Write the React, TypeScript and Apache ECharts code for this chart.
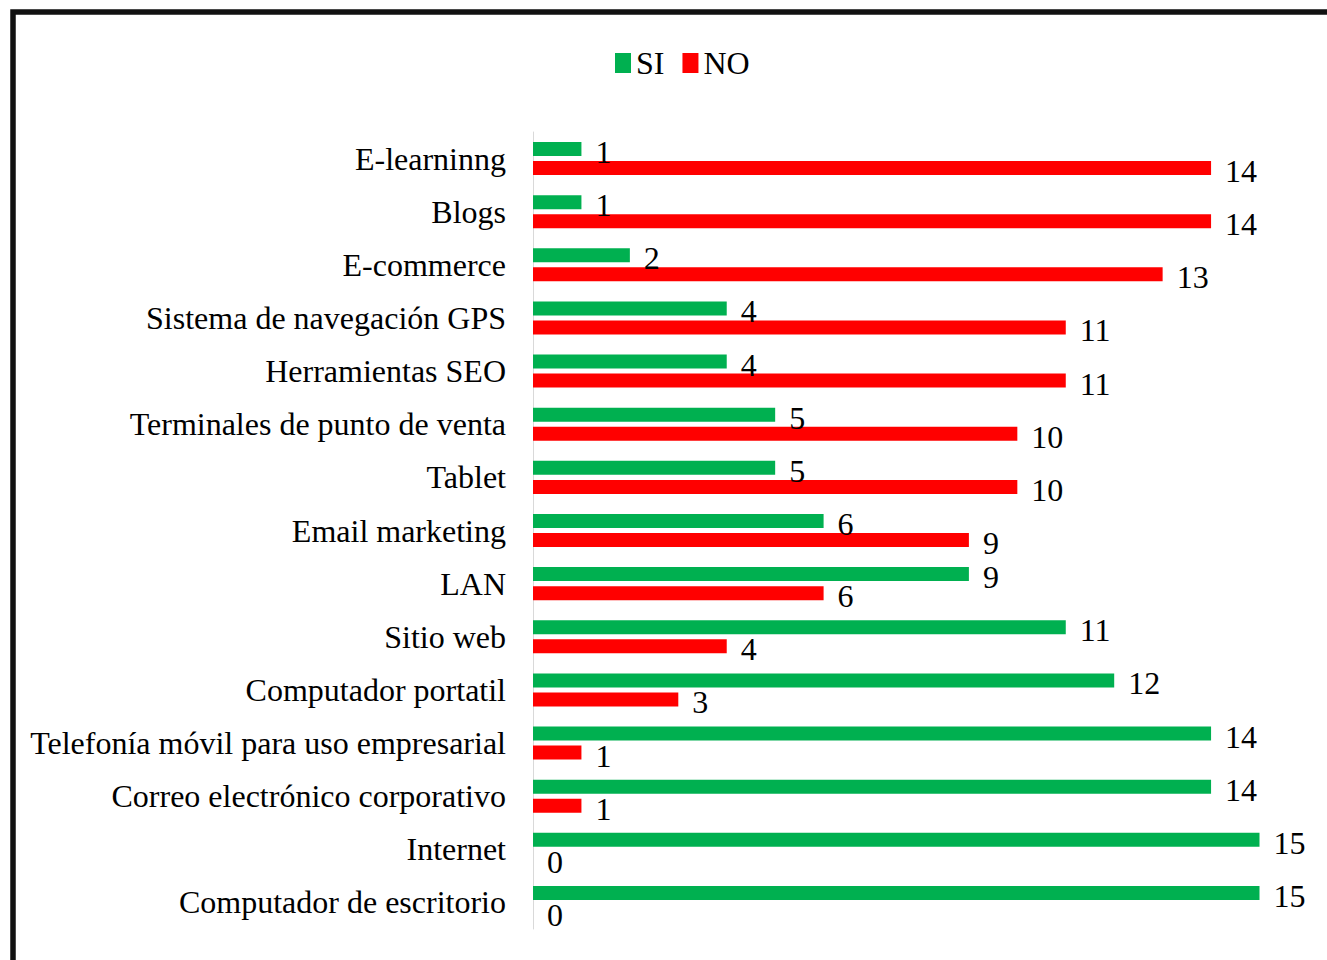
import React, { useEffect, useRef } from "react";
import * as echarts from "echarts";

const categories = [
  "Computador de escritorio",
  "Internet",
  "Correo electrónico corporativo",
  "Telefonía móvil para uso empresarial",
  "Computador portatil",
  "Sitio web",
  "LAN",
  "Email marketing",
  "Tablet",
  "Terminales de punto de venta",
  "Herramientas SEO",
  "Sistema de navegación GPS",
  "E-commerce",
  "Blogs",
  "E-learninng",
];
const siValues = [15, 15, 14, 14, 12, 11, 9, 6, 5, 5, 4, 4, 2, 1, 1];
const noValues = [0, 0, 1, 1, 3, 4, 6, 9, 10, 10, 11, 11, 13, 14, 14];
const seriesNames = ["SI", "NO"];

const FONT = "'Liberation Serif', 'Times New Roman', serif";

export default function App() {
  const ref = useRef<HTMLDivElement>(null);
  useEffect(() => {
    if (!ref.current) return;
    const chart = echarts.init(ref.current, undefined, { renderer: "svg" });
    const labelStyle = {
      show: true,
      position: "right" as const,
      distance: 14,
      offset: [0, 3],
      fontFamily: FONT,
      fontSize: 32,
      color: "#000",
    };
    chart.setOption({
      animation: false,
      backgroundColor: "#fff",
      legend: {
        data: seriesNames,
        left: 610,
        top: 42,
        itemWidth: 16,
        itemHeight: 20,
        itemGap: 18,
        icon: "rect",
        textStyle: { fontFamily: FONT, fontSize: 32, color: "#000" },
      },
      grid: { left: 533, right: 67.5, top: 132, bottom: 31, containLabel: false },
      xAxis: {
        type: "value",
        min: 0,
        max: 15,
        show: false,
      },
      yAxis: {
        type: "category",
        data: categories,
        axisLine: { show: true, lineStyle: { color: "#d9d9d9", width: 1 } },
        axisTick: { show: false },
        axisLabel: { fontFamily: FONT, fontSize: 32, color: "#000", margin: 27 },
      },
      series: [
        {
          name: "SI",
          type: "bar",
          data: siValues,
          barWidth: 14,
          barGap: "36%",
          itemStyle: { color: "#00B050" },
          label: labelStyle,
        },
        {
          name: "NO",
          type: "bar",
          data: noValues,
          barWidth: 14,
          barGap: "36%",
          itemStyle: { color: "#FF0000" },
          label: labelStyle,
        },
      ],
      graphic: [
        {
          type: "rect",
          shape: { x: 13, y: 12, width: 1400, height: 1000 },
          style: { fill: "none", stroke: "#111", lineWidth: 5.5 },
          silent: true,
        },
      ],
    });
    return () => chart.dispose();
  }, []);
  return (
    <div
      ref={ref}
      style={{ position: "absolute", left: 0, top: 0, width: 1327, height: 960 }}
    />
  );
}
